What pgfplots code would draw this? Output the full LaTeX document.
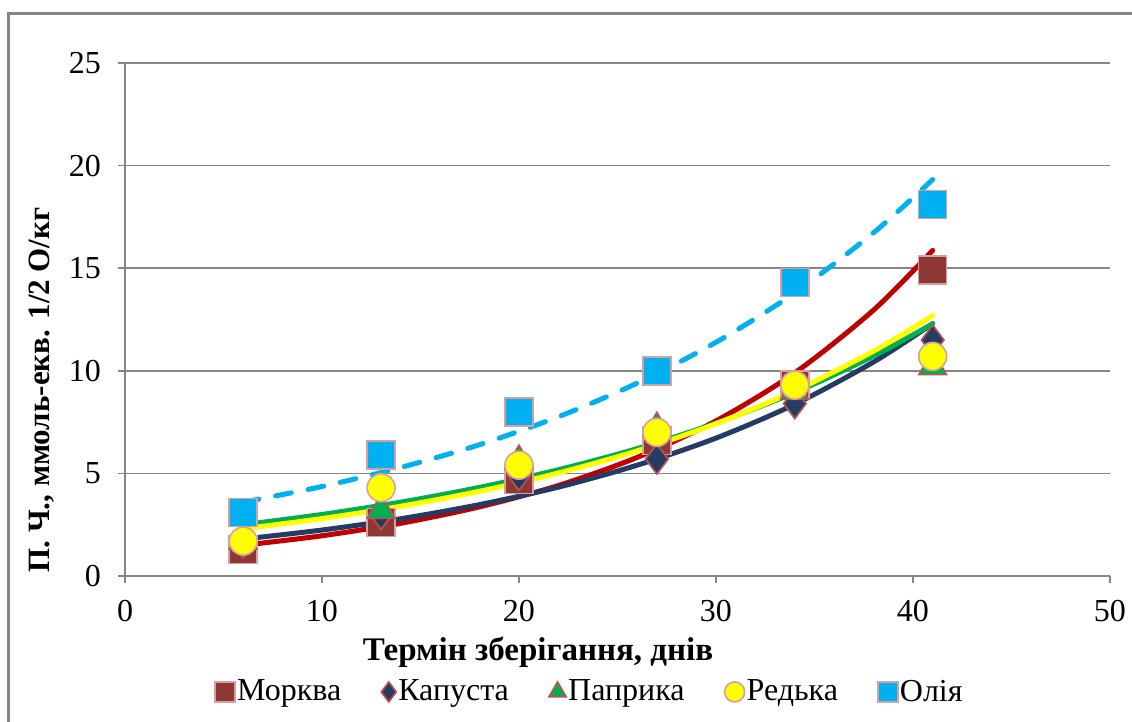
\documentclass[border=0pt]{standalone}
\usepackage{fontspec}
\setmainfont{Liberation Serif}
\usepackage{pgfplots}
\pgfplotsset{compat=1.18}
\definecolor{morkva}{RGB}{142,56,54}
\definecolor{morkvaL}{RGB}{192,0,0}
\definecolor{kapusta}{RGB}{36,62,98}
\definecolor{kapustaL}{RGB}{36,60,100}
\definecolor{paprika}{RGB}{0,176,80}
\definecolor{redka}{RGB}{255,255,0}
\definecolor{oliya}{RGB}{0,176,240}
\definecolor{edge}{RGB}{214,160,160}
\definecolor{edgeD}{RGB}{192,80,77}
\definecolor{axgray}{RGB}{134,134,134}
\begin{document}
\begin{tikzpicture}[x=1pt,y=1pt]
\useasboundingbox (0,0) rectangle (566,361);
\draw[axgray, line width=1.5pt] (4,-2) -- (4,354) -- (568,354);
\begin{axis}[
  at={(62.5pt,73pt)}, anchor=south west,
  scale only axis, width=492.5pt, height=256.5pt,
  xmin=0, xmax=50, ymin=0, ymax=25,
  xtick={0,10,...,50}, ytick={0,5,...,25},
  axis x line*=bottom, axis y line*=left,
  axis line style={axgray, line width=0.75pt, -},
  tick align=outside, major tick length=3.5pt,
  tick style={axgray, line width=0.75pt},
  ymajorgrids, grid style={axgray, line width=0.75pt},
  /pgf/number format/assume math mode=true,
  tick label style={font=\fontsize{16}{18}\selectfont},
  xticklabel style={yshift=-5pt},
  yticklabel style={xshift=-5pt},
  clip=false,
  legend columns=-1,
  legend style={at={(0.472,-0.226)}, anchor=center, draw=none, fill=none,
    font=\fontsize{16}{18}\selectfont, inner sep=0pt,
    nodes={inner sep=1pt},
    /tikz/every even column/.append style={column sep=19pt}},
  legend image code/.code={\draw[#1, mark size=5pt] plot coordinates {(0pt,0pt)};},
]
% data points
\addplot[only marks, mark=square*, mark size=7pt, mark options={fill=morkva, draw=edge, line width=0.8pt}]
  coordinates {(6,1.3) (13,2.6) (20,4.7) (27,6.6) (34,9.3) (41,14.9)};
\addlegendentry{Морква}
\addplot[only marks, mark=diamond*, mark size=7.5pt, mark options={fill=kapusta, draw=edgeD, line width=0.8pt}]
  coordinates {(6,1.6) (13,3.0) (20,4.9) (27,5.7) (34,8.4) (41,11.5)};
\addlegendentry{Капуста}
\addplot[only marks, mark=triangle*, mark size=8pt, mark options={fill=paprika, draw=edgeD, line width=0.8pt}]
  coordinates {(6,1.7) (13,3.2) (20,5.6) (27,7.2) (34,9.0) (41,10.2)};
\addlegendentry{Паприка}
\addplot[only marks, mark=*, mark size=7pt, mark options={fill=redka, draw=edge, line width=0.8pt}]
  coordinates {(6,1.7) (13,4.3) (20,5.4) (27,7.0) (34,9.3) (41,10.7)};
\addlegendentry{Редька}
\addplot[only marks, mark=square*, mark size=7pt, mark options={fill=oliya, draw=edge, line width=0.8pt}]
  coordinates {(6,3.1) (13,5.9) (20,8.0) (27,10.0) (34,14.3) (41,18.1)};
\addlegendentry{Олія}
% trend lines
\addplot[forget plot, smooth, morkvaL, line width=2.5pt, line cap=round]
  coordinates {(6,1.50) (10,1.96) (14,2.57) (18,3.37) (22,4.41) (26,5.78) (30,7.56) (34,9.90) (38,12.96) (41,15.87)};
\addplot[forget plot, smooth, kapustaL, line width=2.5pt, line cap=round]
  coordinates {(6,1.80) (10,2.24) (14,2.79) (18,3.48) (22,4.33) (26,5.40) (30,6.72) (34,8.37) (38,10.43) (41,12.30)};
\addplot[forget plot, smooth, paprika, line width=2.5pt, line cap=round]
  coordinates {(6,2.50) (10,3.00) (14,3.60) (18,4.32) (22,5.18) (26,6.21) (30,7.45) (34,8.94) (38,10.72) (41,12.29)};
\addplot[forget plot, smooth, redka, line width=2.5pt, line cap=round]
  coordinates {(6,2.30) (10,2.80) (14,3.40) (18,4.13) (22,5.02) (26,6.10) (30,7.42) (34,9.02) (38,10.96) (41,12.69)};
\addplot[forget plot, smooth, oliya, line width=2.5pt, line cap=round, dash pattern=on 8pt off 8.5pt]
  coordinates {(6,3.60) (10,4.36) (14,5.29) (18,6.40) (22,7.76) (26,9.40) (30,11.39) (34,13.80) (38,16.73) (41,19.32)};
\end{axis}
\node[font=\bfseries\fontsize{16.5}{18}\selectfont] at (269,35) {Термін зберігання, днів};
\node[font=\bfseries\fontsize{15.5}{18}\selectfont, rotate=90] at (21,166) {П. Ч., ммоль-екв. 1/2 О/кг};
\end{tikzpicture}
\end{document}
